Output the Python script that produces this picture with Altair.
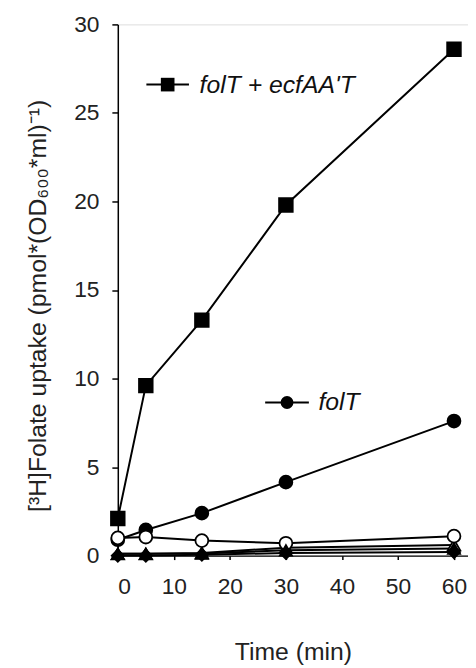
import altair as alt
import pandas as pd

time = [0, 5, 15, 30, 60]
series_names = ["tri_open", "sq_filled", "circ_filled", "circ_open", "tri_filled", "dia_filled"]
tri_open = [0.1, 0.1, 0.15, 0.45, 0.6]
sq_filled = [2.1, 9.6, 13.3, 19.8, 28.6]
circ_filled = [0.9, 1.45, 2.4, 4.15, 7.6]
circ_open = [1.0, 1.05, 0.85, 0.7, 1.1]
tri_filled = [0.1, 0.1, 0.12, 0.3, 0.4]
dia_filled = [0.0, 0.0, 0.05, 0.15, 0.2]
shapes = ["triangle-up", "square", "circle", "circle", "triangle-up", "diamond"]
fills = ["white", "black", "black", "white", "black", "black"]
sizes = [160, 190, 170, 170, 150, 150]

values = [tri_open, sq_filled, circ_filled, circ_open, tri_filled, dia_filled]
rows = []
for i, name in enumerate(series_names):
    for t, v in zip(time, values[i]):
        rows.append({"series": name, "order": i, "time": t, "value": v,
                     "shape": shapes[i], "fill": fills[i], "size": sizes[i]})
df = pd.DataFrame(rows)

# legend annotations (in data coordinates)
leg_labels = ["folT + ecfAA'T", "folT"]
leg_x1 = [5.1, 26.3]
leg_x2 = [12.7, 34.1]
leg_xm = [8.9, 30.2]
leg_y = [26.6, 8.65]
leg_tx = [14.6, 35.8]
leg_shape = ["square", "circle"]
leg_size = [190, 170]
leg = pd.DataFrame({"label": leg_labels, "x1": leg_x1, "x2": leg_x2, "xm": leg_xm,
                    "y": leg_y, "tx": leg_tx, "shape": leg_shape, "size": leg_size})

xs = alt.Scale(domain=[0, 62.5], nice=False, zero=False)
ys = alt.Scale(domain=[0, 30], nice=False)

base = alt.Chart(df)
lines = base.mark_line(color="black", strokeWidth=2).encode(
    x=alt.X("time:Q", scale=xs, axis=alt.Axis(
        title="Time (min)", values=[0, 10, 20, 30, 40, 50, 60], grid=False,
        tickSize=4, labelPadding=16, titlePadding=42, labelFontSize=23, titleFontSize=25,
        titleFontWeight="normal", labelColor="#222", titleColor="#222",
        domainColor="black", tickColor="black", domainWidth=1.5, tickWidth=1.5,
        labelFont="Liberation Sans", titleFont="Liberation Sans")),
    y=alt.Y("value:Q", scale=ys, axis=alt.Axis(
        title="[³H]Folate uptake (pmol*(OD₆₀₀*ml)⁻¹)", values=[0, 5, 10, 15, 20, 25, 30],
        grid=False, tickSize=6, labelPadding=13, titlePadding=24, labelFontSize=23,
        titleFontSize=25, titleY=284, titleFontWeight="normal", labelColor="#222",
        titleColor="#222", domainColor="black", tickColor="black", domainWidth=1.5,
        tickWidth=1.5, labelFont="Liberation Sans", titleFont="Liberation Sans")),
    detail="series:N",
    order="time:Q",
)
points = base.mark_point(stroke="black", strokeWidth=1.8, opacity=1, filled=False).encode(
    x=alt.X("time:Q", scale=xs),
    y=alt.Y("value:Q", scale=ys),
    shape=alt.Shape("shape:N", scale=None),
    fill=alt.Fill("fill:N", scale=None),
    size=alt.Size("size:Q", scale=None),
    order=alt.Order("order:Q", sort="ascending"),
)

lb = alt.Chart(leg)
leg_rule = lb.mark_rule(color="black", strokeWidth=2).encode(
    x=alt.X("x1:Q", scale=xs), x2="x2:Q", y=alt.Y("y:Q", scale=ys))
leg_pt = lb.mark_point(filled=True, color="black", opacity=1).encode(
    x=alt.X("xm:Q", scale=xs), y=alt.Y("y:Q", scale=ys),
    shape=alt.Shape("shape:N", scale=None), size=alt.Size("size:Q", scale=None))
leg_txt = lb.mark_text(align="left", baseline="middle", fontSize=25, fontStyle="italic",
                       font="Liberation Sans", color="#111").encode(
    x=alt.X("tx:Q", scale=xs), y=alt.Y("y:Q", scale=ys), text="label:N")

chart = alt.layer(lines, points, leg_rule, leg_pt, leg_txt).properties(
    width=354, height=537, padding={"left": 17, "top": 2, "right": 0, "bottom": 0}
).configure_view(stroke="black", strokeWidth=1.5).configure(background="white")

chart.save("out.html", embed_options={"renderer": "svg", "actions": False})
